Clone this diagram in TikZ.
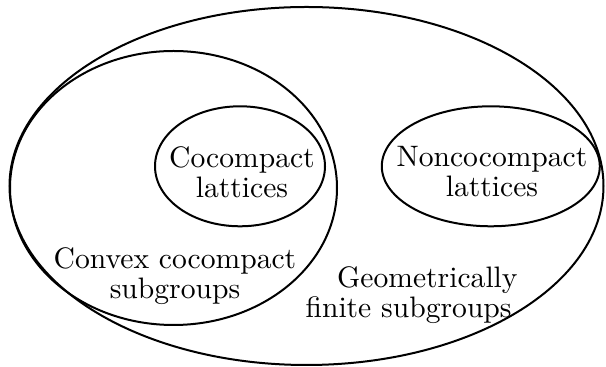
\documentclass[tikz,border=0pt]{standalone}
\usepackage{fontspec}
\setmainfont{lmroman10-regular}[Extension=.otf]
\usetikzlibrary{shapes.geometric}
\tikzset{
  region/.style={draw=black, line width=1pt, ellipse, inner sep=0pt},
  lbl/.style={align=center, inner sep=0pt, font=\fontsize{14.8}{15}\selectfont},
}
\begin{document}
\begin{tikzpicture}[x=0.5pt, y=-0.5pt]
\useasboundingbox (0,0) rectangle (606,367);
\node[region, minimum width=297pt, minimum height=179pt] (big) at (306.5,186) {};
\node[region, minimum width=163.5pt, minimum height=137pt] (convex) at (173.5,188) {};
\node[region, minimum width=85pt, minimum height=60pt] (cocomp) at (240,166.3) {};
\node[region, minimum width=109pt, minimum height=60pt] (noncomp) at (490.8,166.3) {};
\node[lbl] (tcocomp) at (242,171.9) {Cocompact\\lattices};
\node[lbl] (tnoncomp) at (492,171.9) {Noncocompact\\lattices};
\node[lbl] (tconvex) at (175,275.8) {Convex cocompact\\subgroups};
\node[lbl, align=right, anchor=east] (tgeo) at (518,295.1) {Geometrically\\finite subgroups\hspace*{3pt}};
\end{tikzpicture}
\end{document}
